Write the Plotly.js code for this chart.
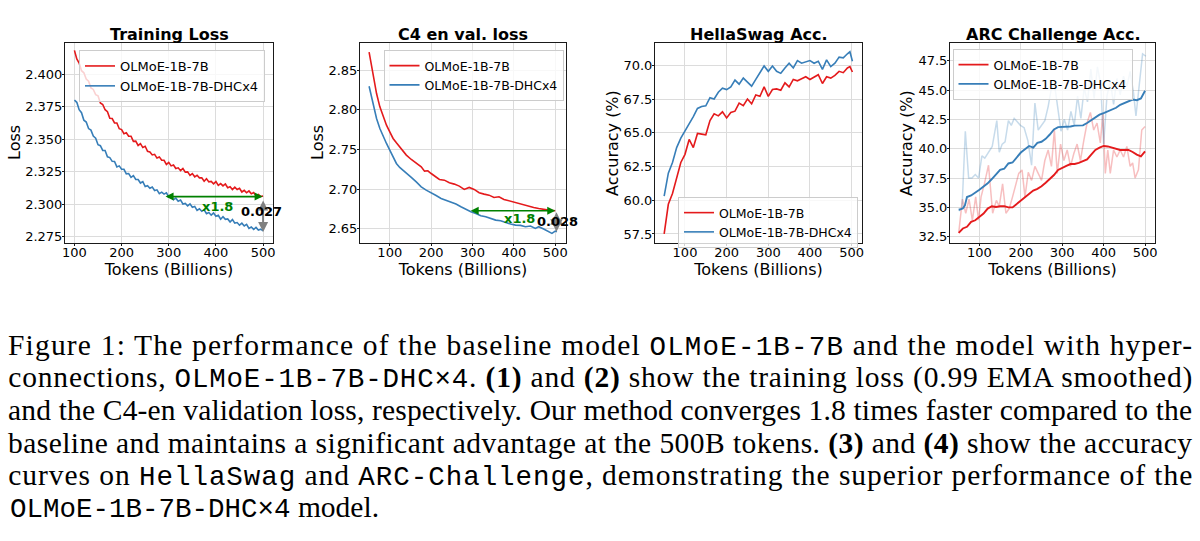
<!DOCTYPE html>
<html>
<head>
<meta charset="utf-8">
<script src="https://cdn.plot.ly/plotly-3.0.1.min.js"></script>
<style>html,body{margin:0;padding:0;background:#fff;}#chart{width:1200px;height:541px;}</style>
</head>
<body>
<div id="chart"></div>
<script>
// ---------- Panel 1: Training loss ----------
const tlTokens = [100,105,110,115,120,125,130,135,140,145,150,155,160,165,170,175,180,185,190,195,200,205,210,215,220,225,230,235,240,245,250,255,260,265,270,275,280,285,290,295,300,305,310,315,320,325,330,335,340,345,350,355,360,365,370,375,380,385,390,395,400,405,410,415,420,425,430,435,440,445,450,455,460,465,470,475,480,485,490,495,500];
const tlBase = [2.4182,2.4116,2.4085,2.4026,2.4010,2.3962,2.3945,2.3894,2.3882,2.3842,2.3833,2.3778,2.3766,2.3726,2.3711,2.3660,2.3658,2.3624,2.3624,2.3580,2.3573,2.3542,2.3549,2.3523,2.3522,2.3483,2.3484,2.3451,2.3465,2.3435,2.3445,2.3406,2.3401,2.3378,2.3383,2.3354,2.3363,2.3337,2.3337,2.3305,2.3321,2.3294,2.3301,2.3274,2.3279,2.3257,2.3274,2.3246,2.3248,2.3221,2.3235,2.3210,2.3222,2.3202,2.3202,2.3176,2.3195,2.3171,2.3175,2.3156,2.3173,2.3144,2.3158,2.3140,2.3155,2.3126,2.3134,2.3112,2.3130,2.3112,2.3122,2.3093,2.3106,2.3087,2.3101,2.3079,2.3089,2.3064,2.3074,2.3058,2.3062];
const tlDhc = [2.3800,2.3783,2.3726,2.3703,2.3645,2.3631,2.3581,2.3569,2.3523,2.3507,2.3457,2.3449,2.3413,2.3412,2.3364,2.3358,2.3329,2.3328,2.3286,2.3294,2.3269,2.3268,2.3233,2.3235,2.3206,2.3219,2.3190,2.3189,2.3162,2.3173,2.3135,2.3142,2.3122,2.3131,2.3105,2.3110,2.3081,2.3092,2.3077,2.3087,2.3055,2.3060,2.3034,2.3046,2.3023,2.3032,2.3001,2.3005,2.2987,2.3002,2.2976,2.2982,2.2952,2.2964,2.2945,2.2956,2.2926,2.2935,2.2915,2.2932,2.2907,2.2914,2.2884,2.2903,2.2883,2.2886,2.2863,2.2882,2.2854,2.2858,2.2838,2.2853,2.2832,2.2844,2.2813,2.2824,2.2806,2.2821,2.2801,2.2807,2.2794];

// ---------- Panel 2: C4 en val. loss ----------
const c4TokensBase = [50,60,68,76,84,92,100,108,116,124,132,140,152,164,176,184,192,200,212,220,232,244,256,268,280,292,304,316,328,340,352,364,376,388,400,412,424,436,448,460,472,484,500];
const c4Base = [2.873,2.8416,2.8206,2.8038,2.7912,2.7807,2.7723,2.7639,2.7584,2.7534,2.7471,2.7429,2.7374,2.7324,2.7282,2.7227,2.7231,2.7197,2.7155,2.7122,2.7113,2.708,2.7063,2.7038,2.6996,2.7021,2.6996,2.6954,2.6937,2.6924,2.6895,2.6903,2.687,2.6853,2.6828,2.6819,2.6798,2.6786,2.6769,2.6756,2.6744,2.6735,2.6727];
const c4TokensDhc = [50,60,68,76,84,92,100,108,116,124,132,140,152,164,176,188,200,212,224,236,248,260,272,284,296,308,320,332,344,356,368,380,392,404,416,428,440,452,460,472,484,492,500,504];
const c4Dhc = [2.8298,2.808,2.7891,2.7765,2.766,2.7576,2.7492,2.7408,2.7324,2.7273,2.724,2.7206,2.7147,2.7092,2.7029,2.6987,2.6958,2.692,2.6882,2.6861,2.6832,2.6811,2.6777,2.6744,2.6714,2.6693,2.6664,2.6651,2.663,2.6609,2.6601,2.6576,2.6559,2.6546,2.6542,2.6525,2.6534,2.6504,2.6525,2.6496,2.6462,2.6441,2.647,2.6462];

// ---------- Panel 3: HellaSwag accuracy ----------
const hsTokens = [50,60,70,80,90,100,110,120,130,140,150,160,170,180,190,200,210,220,230,240,250,260,270,280,290,300,310,320,330,340,350,360,370,380,390,400,410,420,430,440,450,460,470,480,490,496,502];
const hsBase = [57.5,59.7,60.5,61.6,62.8,63.4,64.5,63.9,64.95,64.9,64.85,65.9,66.4,66.25,66.55,66.1,66.5,66.6,67.2,67.0,67.5,67.15,67.8,67.7,68.4,67.7,68.2,68.25,68.15,68.7,68.4,68.95,68.85,69.0,69.15,68.95,69.1,69.3,68.65,69.15,69.05,69.25,69.55,69.45,69.8,69.9,69.5];
const hsDhc = [60.3,62.0,62.8,63.9,64.6,65.1,65.6,66.2,66.8,66.95,67.0,67.6,67.5,68.0,68.3,68.2,68.4,68.9,68.6,69.05,68.75,68.45,68.95,69.5,69.95,69.55,69.95,69.55,69.4,69.8,70.15,69.8,70.35,70.15,70.25,70.35,70.15,70.3,69.7,70.4,69.9,70.15,70.6,70.55,70.85,71.0,70.3];

// ---------- Panel 4: ARC Challenge accuracy ----------
const arcTokensSmooth = [50,60,70,80,90,100,110,120,130,140,150,160,170,180,190,200,210,220,230,240,250,260,270,280,290,300,310,320,330,340,350,360,370,380,390,400,410,420,430,440,450,460,470,480,490,500];
const arcBaseSmooth = [32.83,33.2,33.34,33.77,33.9,34.2,34.47,34.9,35.1,35.03,35.1,35.1,35.0,35.0,35.3,35.6,35.9,36.2,36.44,36.58,36.8,37.1,37.42,37.76,38.2,38.4,38.55,38.7,38.7,38.8,38.97,39.1,39.5,39.9,40.1,40.24,40.2,40.1,39.96,39.9,39.9,39.9,39.73,39.5,39.35,39.78];
const arcTokensDhcSmooth = [50,60,65,70,80,90,100,110,120,130,140,150,160,170,180,190,200,210,220,230,240,250,260,270,280,290,300,310,320,330,340,350,360,370,380,390,400,410,420,430,440,450,460,470,480,490,500];
const arcDhcSmooth = [34.8,34.9,35.17,35.88,36.02,36.24,36.5,36.78,37.05,37.42,37.85,38.2,38.3,38.75,38.83,39.25,39.68,39.96,40.24,40.1,40.5,40.6,40.85,41.22,41.65,41.85,41.87,41.87,41.9,41.98,41.98,42.0,42.2,42.45,42.72,42.91,43.05,43.2,43.33,43.5,43.76,43.9,44.04,44.2,44.15,44.3,44.95];
const arcTokensBaseRaw = [50,59,67,75,83,91,98,104,112,122,132,141,148,156,164,172,180,188,195,203,210,218,226,234,242,250,258,266,274,281,288,296,304,312,320,328,336,344,352,360,368,376,384,392,398,404,410,416,424,432,440,448,456,464,470,476,484,492,500];
const arcBaseRaw = [32.8,35.7,34.5,35.7,33.9,35.9,33.9,35.9,37.0,38.6,34.5,35.6,35.1,37.0,34.5,34.9,35.9,37.0,37.9,38.2,35.9,38.0,37.3,38.5,37.9,37.3,39.0,39.9,38.5,41.6,37.9,40.4,39.0,39.9,38.5,39.6,40.4,39.0,40.7,42.2,43.1,41.6,42.2,40.5,43.0,37.9,39.9,37.9,39.9,39.3,39.9,39.3,40.2,38.5,38.8,37.5,38.2,41.6,41.9];
const arcTokensDhcRaw = [50,58,66,74,82,90,98,106,113,119,125,131,142,148,155,162,170,177,184,192,199,208,217,226,234,242,250,258,266,273,281,289,297,305,313,321,329,337,345,353,361,369,377,385,393,400,408,416,424,432,440,448,456,464,472,478,486,494,502];
const arcDhcRaw = [34.7,34.9,41.5,37.5,37.5,37.8,37.5,39.4,39.2,39.5,39.9,40.2,42.4,39.7,40.4,40.6,42.4,42.0,42.6,42.3,42.0,41.8,40.7,38.6,43.9,41.6,42.0,42.4,43.6,45.0,45.6,43.5,41.5,42.5,41.6,43.2,42.0,44.5,42.6,45.2,44.0,46.8,44.3,47.0,45.5,40.4,44.5,45.8,43.8,46.0,44.6,46.2,45.3,46.6,44.8,42.8,45.6,48.1,47.9];

// ---------- Labels ----------
const nameBase = 'OLMoE-1B-7B';
const nameDhc = 'OLMoE-1B-7B-DHCx4';
const panelTitles = ['Training Loss', 'C4 en val. loss', 'HellaSwag Acc.', 'ARC Challenge Acc.'];
const xTitle = 'Tokens (Billions)';
const yTitles = ['Loss', 'Loss', 'Accuracy (%)', 'Accuracy (%)'];
const speedupLabel = 'x1.8';
const gapLabels = ['0.027', '0.028'];
const mono = s => '<span style="font-family:\'Liberation Mono\',monospace;font-size:27.5px">' + s + '</span>';
const captionLines = [
  'Figure 1: The performance of the baseline model ' + mono('OLMoE-1B-7B') + ' and the model with hyper-',
  'connections, ' + mono('OLMoE-1B-7B-DHC×4') + '. <b>(1)</b> and <b>(2)</b> show the training loss (0.99 EMA smoothed)',
  'and the C4-en validation loss, respectively. Our method converges 1.8 times faster compared to the',
  'baseline and maintains a significant advantage at the 500B tokens. <b>(3)</b> and <b>(4)</b> show the accuracy',
  'curves on ' + mono('HellaSwag') + ' and ' + mono('ARC-Challenge') + ', demonstrating the superior performance of the',
  mono('OLMoE-1B-7B-DHC×4') + ' model.'
];

const RED = '#e41a1c', BLUE = '#377eb8';
const RED_F = 'rgba(228,26,28,0.28)', BLUE_F = 'rgba(55,126,184,0.28)';

const data = [
  {x: tlTokens, y: tlBase, type: 'scatter', mode: 'lines', name: nameBase, xaxis: 'x', yaxis: 'y', legend: 'legend', line: {color: RED, width: 1.6}},
  {x: tlTokens, y: tlDhc, type: 'scatter', mode: 'lines', name: nameDhc, xaxis: 'x', yaxis: 'y', legend: 'legend', line: {color: BLUE, width: 1.6}},
  {x: c4TokensBase, y: c4Base, type: 'scatter', mode: 'lines', name: nameBase, xaxis: 'x2', yaxis: 'y2', legend: 'legend2', line: {color: RED, width: 1.6}},
  {x: c4TokensDhc, y: c4Dhc, type: 'scatter', mode: 'lines', name: nameDhc, xaxis: 'x2', yaxis: 'y2', legend: 'legend2', line: {color: BLUE, width: 1.6}},
  {x: hsTokens, y: hsBase, type: 'scatter', mode: 'lines', name: nameBase, xaxis: 'x3', yaxis: 'y3', legend: 'legend3', line: {color: RED, width: 1.6}},
  {x: hsTokens, y: hsDhc, type: 'scatter', mode: 'lines', name: nameDhc, xaxis: 'x3', yaxis: 'y3', legend: 'legend3', line: {color: BLUE, width: 1.6}},
  {x: arcTokensBaseRaw, y: arcBaseRaw, type: 'scatter', mode: 'lines', showlegend: false, hoverinfo: 'skip', xaxis: 'x4', yaxis: 'y4', line: {color: RED_F, width: 1.5}},
  {x: arcTokensDhcRaw, y: arcDhcRaw, type: 'scatter', mode: 'lines', showlegend: false, hoverinfo: 'skip', xaxis: 'x4', yaxis: 'y4', line: {color: BLUE_F, width: 1.5}},
  {x: arcTokensSmooth, y: arcBaseSmooth, type: 'scatter', mode: 'lines', name: nameBase, xaxis: 'x4', yaxis: 'y4', legend: 'legend4', line: {color: RED, width: 1.9}},
  {x: arcTokensDhcSmooth, y: arcDhcSmooth, type: 'scatter', mode: 'lines', name: nameDhc, xaxis: 'x4', yaxis: 'y4', legend: 'legend4', line: {color: BLUE, width: 1.9}}
];

const H = 541, W = 1200;
const yDom = [1 - 243 / H, 1 - 43 / H];
const ax = (extra) => Object.assign({
  showgrid: true, gridcolor: '#dcdcdc', gridwidth: 1,
  showline: true, linecolor: '#1a1a1a', linewidth: 1, mirror: true,
  ticks: 'outside', ticklen: 2, tickcolor: '#1a1a1a',
  zeroline: false, fixedrange: true,
  tickfont: {family: 'DejaVu Sans', size: 13, color: '#000'}
}, extra);
const xt = {text: xTitle, font: {family: 'DejaVu Sans', size: 16, color: '#000'}, standoff: 0};
const legendBase = (x, y, fs) => ({
  x: x, y: y, xanchor: 'center', yanchor: 'top', xref: 'paper', yref: 'paper',
  bgcolor: 'rgba(255,255,255,0.8)', bordercolor: '#cccccc', borderwidth: 1,
  font: {family: 'DejaVu Sans', size: fs, color: '#000'}, tracegroupgap: 0, itemwidth: 30
});

const annotations = [];
const titleX = [169, 463, 758.5, 1052.5];
panelTitles.forEach((t, i) => annotations.push({
  xref: 'paper', yref: 'paper', x: titleX[i] / W, y: 1 - 34 / H, xanchor: 'center', yanchor: 'middle',
  showarrow: false, text: '<b>' + t + '</b>', font: {family: 'DejaVu Sans', size: 16, color: '#000'}
}));
const yTitleX = [14, 317, 612, 906];
yTitles.forEach((t, i) => annotations.push({
  xref: 'paper', yref: 'paper', x: yTitleX[i] / W, y: 1 - 143 / H, xanchor: 'center', yanchor: 'middle',
  textangle: -90, showarrow: false, text: t, font: {family: 'DejaVu Sans', size: 16, color: '#000'}
}));
// Panel 1 arrows and labels
annotations.push({xref: 'x', yref: 'y', axref: 'x', ayref: 'y', x: 499, y: 2.3058, ax: 290, ay: 2.3058, text: '', showarrow: true, arrowhead: 2, arrowside: 'end+start', arrowsize: 1, arrowwidth: 1.6, arrowcolor: '#008000'});
annotations.push({xref: 'x', yref: 'y', axref: 'x', ayref: 'y', x: 500, y: 2.2785, ax: 500, ay: 2.3040, text: '', showarrow: true, arrowhead: 2, arrowside: 'end+start', arrowsize: 1, arrowwidth: 2, arrowcolor: '#808080'});
annotations.push({xref: 'x', yref: 'y', x: 404, y: 2.298, text: '<b>' + speedupLabel + '</b>', showarrow: false, font: {family: 'DejaVu Sans', size: 13, color: '#008000'}});
annotations.push({xref: 'x', yref: 'y', x: 497, y: 2.2945, text: '<b>' + gapLabels[0] + '</b>', showarrow: false, font: {family: 'DejaVu Sans', size: 13, color: '#000'}});
// Panel 2 arrows and labels
annotations.push({xref: 'x2', yref: 'y2', axref: 'x2', ayref: 'y2', x: 500, y: 2.6727, ax: 292, ay: 2.6727, text: '', showarrow: true, arrowhead: 2, arrowside: 'end+start', arrowsize: 1, arrowwidth: 1.6, arrowcolor: '#008000'});
annotations.push({xref: 'x2', yref: 'y2', axref: 'x2', ayref: 'y2', x: 503, y: 2.6462, ax: 503, ay: 2.6727, text: '', showarrow: true, arrowhead: 2, arrowside: 'end+start', arrowsize: 1, arrowwidth: 2.5, arrowcolor: '#808080'});
annotations.push({xref: 'x2', yref: 'y2', x: 413, y: 2.663, text: '<b>' + speedupLabel + '</b>', showarrow: false, font: {family: 'DejaVu Sans', size: 13, color: '#008000'}});
annotations.push({xref: 'x2', yref: 'y2', x: 506, y: 2.6597, text: '<b>' + gapLabels[1] + '</b>', showarrow: false, font: {family: 'DejaVu Sans', size: 13, color: '#000'}});
// Caption
const capY = [345.5, 378, 410.5, 443, 475.5, 508];
const capStart = annotations.length;
captionLines.forEach((t, i) => {
  const last = i === captionLines.length - 1;
  annotations.push({
    xref: 'paper', yref: 'paper', x: last ? 8 / W : 0.5, y: 1 - capY[i] / H,
    xanchor: last ? 'left' : 'center', yanchor: 'middle', align: last ? 'left' : 'center',
    showarrow: false, text: t, font: {family: 'Liberation Serif', size: 29.5, color: '#000'}
  });
});

const layout = {
  width: W, height: H,
  margin: {l: 0, r: 0, t: 0, b: 0},
  paper_bgcolor: '#fff', plot_bgcolor: '#fff',
  font: {family: 'DejaVu Sans', size: 13, color: '#000'},
  showlegend: true,
  xaxis: ax({domain: [65 / W, 273 / W], range: [80, 521], anchor: 'y', tick0: 100, dtick: 100, ticklabelstandoff: -5, title: xt}),
  yaxis: ax({domain: yDom, range: [2.2701, 2.4239], anchor: 'x', tick0: 2.275, dtick: 0.025, tickformat: '.3f', ticklabelstandoff: -3}),
  xaxis2: ax({domain: [360 / W, 566 / W], range: [28, 526], anchor: 'y2', tick0: 100, dtick: 100, ticklabelstandoff: -5, title: xt}),
  yaxis2: ax({domain: yDom, range: [2.632, 2.8844], anchor: 'x2', tick0: 2.65, dtick: 0.05, tickformat: '.2f', ticklabelstandoff: -3}),
  xaxis3: ax({domain: [655 / W, 862 / W], range: [28, 525], anchor: 'y3', tick0: 100, dtick: 100, ticklabelstandoff: -5, title: xt}),
  yaxis3: ax({domain: yDom, range: [56.83, 71.65], anchor: 'x3', tick0: 57.5, dtick: 2.5, tickformat: '.1f', ticklabelstandoff: -3}),
  xaxis4: ax({domain: [950 / W, 1155 / W], range: [29, 524], anchor: 'y4', tick0: 100, dtick: 100, ticklabelstandoff: -5, title: xt}),
  yaxis4: ax({domain: yDom, range: [31.96, 49.03], anchor: 'x4', tick0: 32.5, dtick: 2.5, tickformat: '.1f', ticklabelstandoff: -3}),
  legend: legendBase(172 / W, 1 - 50 / H, 13),
  legend2: legendBase(473.5 / W, 1 - 50 / H, 12.5),
  legend3: legendBase(768 / W, 1 - 197 / H, 12.5),
  legend4: legendBase(1042.5 / W, 1 - 49 / H, 12.5),
  annotations: annotations
};

Plotly.newPlot('chart', data, layout, {displayModeBar: false, staticPlot: true}).then(gd => {
  // justify the caption lines (all but the last) across the text block width
  for (let i = capStart; i < capStart + captionLines.length - 1; i++) {
    const g = gd.querySelector('.annotation[data-index="' + i + '"]');
    if (!g) continue;
    const t = g.querySelector('text.annotation-text');
    if (t) { t.setAttribute('textLength', '1184'); t.setAttribute('lengthAdjust', 'spacing'); }
  }
});
</script>
</body>
</html>
